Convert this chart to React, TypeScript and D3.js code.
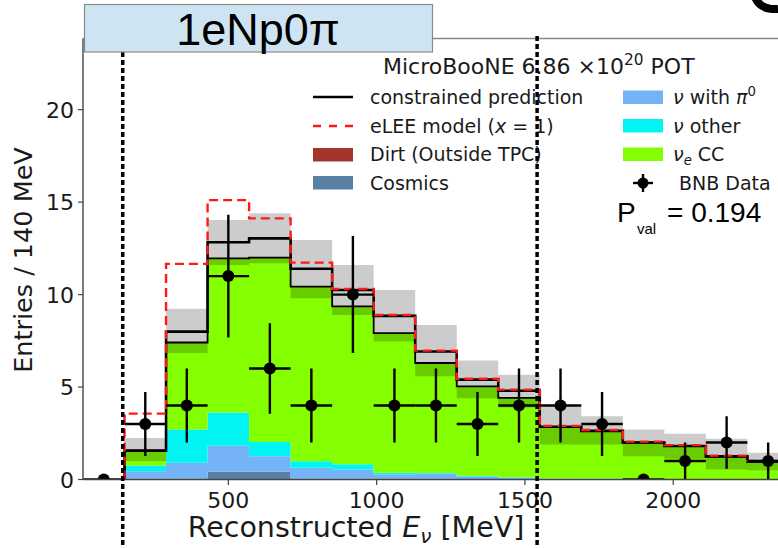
import React, { useEffect, useRef } from "react";
import * as d3 from "d3";

// ---- data ----
const binEdges = [150, 290, 430, 570, 710, 850, 990, 1130, 1270, 1410, 1550, 1690, 1830, 1970, 2110, 2250, 2390];
const cosmics = [0.05, 0.05, 0.4, 0.4, 0.05, 0.05, 0.03, 0.03, 0.02, 0.02, 0.01, 0.01, 0.01, 0.01, 0.01, 0.01];
const dirt = [0, 0, 0.02, 0.02, 0.01, 0.01, 0.01, 0.01, 0, 0, 0, 0, 0, 0, 0, 0];
const nuPi0 = [0.4, 0.85, 1.41, 0.84, 0.57, 0.48, 0.23, 0.27, 0.13, 0.08, 0.04, 0.03, 0.02, 0.02, 0.01, 0.01];
const nuOther = [0.31, 1.8, 1.8, 0.77, 0.36, 0.28, 0.09, 0.04, 0.05, 0.02, 0.01, 0.01, 0.01, 0, 0, 0];
const nueCC = [0.8, 4.71, 8.33, 9.97, 9.44, 8.54, 7.56, 5.95, 4.84, 4.29, 2.79, 2.57, 1.96, 1.77, 1.22, 0.95];
const constrained = [1.56, 8.0, 12.83, 13.04, 11.4, 10.25, 8.85, 6.92, 5.4, 4.8, 2.85, 2.63, 2.0, 1.81, 1.25, 0.97];
const bandHigh = [2.25, 9.23, 14.03, 14.4, 12.95, 11.6, 10.25, 8.36, 6.44, 5.67, 3.96, 3.42, 2.7, 2.48, 2.2, 1.45];
const bandLow = [1.0, 6.84, 11.6, 11.7, 9.8, 8.9, 7.46, 5.58, 4.4, 3.9, 1.89, 1.89, 1.26, 1.12, 0.54, 0.5];
const eLEE = [3.56, 11.66, 15.11, 14.12, 11.73, 10.3, 8.9, 6.97, 5.45, 4.86, 2.9, 2.68, 2.05, 1.86, 1.29, 1.01];
const dataEdges = [10, 150, 290, 430, 570, 710, 850, 990, 1130, 1270, 1410, 1550, 1690, 1830, 1970, 2110, 2250, 2390];
const dataCounts = [0, 3, 4, 11, 6, 4, 10, 4, 4, 3, 4, 4, 3, 0, 1, 2, 1];
const yTicks = [0, 5, 10, 15, 20];
const xTicks = [500, 1000, 1500, 2000];
const cutLines = [144, 1541];

const layerKeys = ["cosmics", "dirt", "nuPi0", "nuOther", "nueCC"];
const layerColors: Record<string, string> = {
  cosmics: "#5b80a6",
  dirt: "#a3352a",
  nuPi0: "#74b4f6",
  nuOther: "#00f4f4",
  nueCC: "#84ff00",
};

const SANS = "'DejaVu Sans', sans-serif";
const ARIAL = "'Liberation Sans', Arial, sans-serif";

type Part = { t: string; i?: boolean; sup?: boolean; sub?: boolean };

function richText(g: any, x: number, yb: number, parts: Part[], size: number, family: string, anchor = "start") {
  const t = g
    .append("text")
    .attr("x", x)
    .attr("y", yb)
    .attr("font-size", size)
    .attr("font-family", family)
    .attr("fill", "#1a1a1a")
    .attr("text-anchor", anchor);
  let shift = 0;
  parts.forEach((p) => {
    const ts = t.append("tspan").text(p.t);
    let target = 0;
    if (p.sup) target = -size * 0.42;
    if (p.sub) target = size * 0.22;
    ts.attr("dy", target - shift);
    shift = target;
    if (p.i) ts.attr("font-style", "italic");
    if (p.sup || p.sub) ts.attr("font-size", size * 0.7);
  });
  return t;
}

export default function App() {
  const ref = useRef<SVGSVGElement>(null);

  useEffect(() => {
    const svg = d3.select(ref.current);
    svg.selectAll("*").remove();

    const x = d3.scaleLinear().domain([10, 2400]).range([83, 83 + 2390 * 0.2966]);
    const y = d3.scaleLinear().domain([0, 23.85]).range([479.5, 38.5]);

    const defs = svg.append("defs");
    defs
      .append("clipPath")
      .attr("id", "plotclip")
      .append("rect")
      .attr("x", 83)
      .attr("y", 38.5)
      .attr("width", 778 - 83)
      .attr("height", 479.5 - 38.5);

    const plot = svg.append("g").attr("clip-path", "url(#plotclip)");

    // stacked histogram
    const rows = binEdges.slice(0, -1).map((e, i) => ({
      lo: e,
      hi: binEdges[i + 1],
      cosmics: cosmics[i],
      dirt: dirt[i],
      nuPi0: nuPi0[i],
      nuOther: nuOther[i],
      nueCC: nueCC[i],
    }));
    const stacked = d3.stack<any>().keys(layerKeys)(rows);

    const stepArea = (lo: number[], hi: number[]) => {
      const pts = binEdges.map((e, i) => {
        const j = Math.min(i, lo.length - 1);
        return { e, lo: lo[j], hi: hi[j] };
      });
      return d3
        .area<any>()
        .curve(d3.curveStepAfter)
        .x((d) => x(d.e))
        .y0((d) => y(d.lo))
        .y1((d) => y(d.hi))(pts);
    };
    const stepLine = (vals: number[]) => {
      const pts: [number, number][] = [[binEdges[0], 0]];
      binEdges.forEach((e, i) => pts.push([e, vals[Math.min(i, vals.length - 1)]]));
      return d3
        .line<[number, number]>()
        .curve(d3.curveStepAfter)
        .x((d) => x(d[0]))
        .y((d) => y(d[1]))(pts);
    };

    stacked.forEach((layer) => {
      plot
        .append("path")
        .attr("d", stepArea(layer.map((d) => d[0]), layer.map((d) => d[1])))
        .attr("fill", layerColors[layer.key]);
    });

    const stackTop = rows.map((_, i) => stacked[stacked.length - 1][i][1]);
    plot
      .append("path")
      .attr("d", stepLine(stackTop))
      .attr("fill", "none")
      .attr("stroke", "#000")
      .attr("stroke-width", 1.8);

    // uncertainty band
    plot
      .append("path")
      .attr("d", stepArea(bandLow, bandHigh))
      .attr("fill", "#000")
      .attr("fill-opacity", 0.2);

    // constrained prediction
    plot
      .append("path")
      .attr("d", stepLine(constrained))
      .attr("fill", "none")
      .attr("stroke", "#000")
      .attr("stroke-width", 2.6);

    // eLEE
    plot
      .append("path")
      .attr("d", stepLine(eLEE))
      .attr("fill", "none")
      .attr("stroke", "#ff1a1a")
      .attr("stroke-width", 2.4)
      .attr("stroke-dasharray", "9,5");

    // data points
    dataCounts.forEach((n, i) => {
      const lo = dataEdges[i];
      const hi = dataEdges[i + 1];
      const cx = x((lo + hi) / 2);
      const cy = y(n);
      plot
        .append("line")
        .attr("x1", x(lo))
        .attr("x2", x(hi))
        .attr("y1", cy)
        .attr("y2", cy)
        .attr("stroke", "#000")
        .attr("stroke-width", 2.4);
      if (n > 0) {
        const e = Math.sqrt(n);
        plot
          .append("line")
          .attr("x1", cx)
          .attr("x2", cx)
          .attr("y1", y(n - e))
          .attr("y2", y(n + e))
          .attr("stroke", "#000")
          .attr("stroke-width", 2.4);
      }
      plot.append("circle").attr("cx", cx).attr("cy", cy).attr("r", 6).attr("fill", "#000");
    });

    // axes frame
    const axisColor = "#444";
    svg
      .append("line")
      .attr("x1", 83)
      .attr("x2", 83)
      .attr("y1", 38.5)
      .attr("y2", 479.5)
      .attr("stroke", axisColor)
      .attr("stroke-width", 1.4);
    svg
      .append("line")
      .attr("x1", 83)
      .attr("x2", 778)
      .attr("y1", 479.5)
      .attr("y2", 479.5)
      .attr("stroke", axisColor)
      .attr("stroke-width", 1.4);
    svg
      .append("line")
      .attr("x1", 83)
      .attr("x2", 778)
      .attr("y1", 38.5)
      .attr("y2", 38.5)
      .attr("stroke", "#888")
      .attr("stroke-width", 1.4);

    yTicks.forEach((t) => {
      svg
        .append("line")
        .attr("x1", 78)
        .attr("x2", 83)
        .attr("y1", y(t))
        .attr("y2", y(t))
        .attr("stroke", axisColor)
        .attr("stroke-width", 1.2);
      svg
        .append("text")
        .attr("x", 74)
        .attr("y", y(t) + 8)
        .attr("text-anchor", "end")
        .attr("font-size", 22)
        .attr("font-family", SANS)
        .attr("fill", "#1a1a1a")
        .text(String(t));
    });
    xTicks.forEach((t) => {
      svg
        .append("line")
        .attr("x1", x(t))
        .attr("x2", x(t))
        .attr("y1", 479.5)
        .attr("y2", 485)
        .attr("stroke", axisColor)
        .attr("stroke-width", 1.2);
      svg
        .append("text")
        .attr("x", x(t))
        .attr("y", 508)
        .attr("text-anchor", "middle")
        .attr("font-size", 22)
        .attr("font-family", SANS)
        .attr("fill", "#1a1a1a")
        .text(String(t));
    });

    // axis labels
    richText(
      svg,
      356,
      537,
      [{ t: "Reconstructed " }, { t: "E", i: true }, { t: "ν", i: true, sub: true }, { t: " [MeV]" }],
      28.5,
      SANS,
      "middle"
    );
    svg
      .append("text")
      .attr("transform", "translate(32,260) rotate(-90)")
      .attr("text-anchor", "middle")
      .attr("font-size", 25.5)
      .attr("font-family", SANS)
      .attr("fill", "#1a1a1a")
      .text("Entries / 140 MeV");

    // legend
    const lg = svg.append("g");
    richText(lg, 383, 74, [{ t: "MicroBooNE 6.86 ×10" }, { t: "20", sup: true }, { t: " POT" }], 22, SANS);

    lg.append("line").attr("x1", 313).attr("x2", 353).attr("y1", 97).attr("y2", 97).attr("stroke", "#000").attr("stroke-width", 2.4);
    lg.append("line")
      .attr("x1", 313)
      .attr("x2", 353)
      .attr("y1", 126)
      .attr("y2", 126)
      .attr("stroke", "#ff1a1a")
      .attr("stroke-width", 2.4)
      .attr("stroke-dasharray", "8,8");
    lg.append("rect").attr("x", 313).attr("y", 148).attr("width", 40).attr("height", 13.5).attr("fill", layerColors.dirt);
    lg.append("rect").attr("x", 313).attr("y", 176).attr("width", 40).attr("height", 13.5).attr("fill", layerColors.cosmics);
    richText(lg, 370, 104, [{ t: "constrained prediction" }], 19, SANS);
    richText(lg, 370, 132.5, [{ t: "eLEE model (" }, { t: "x", i: true }, { t: " = 1)" }], 19, SANS);
    richText(lg, 370, 161, [{ t: "Dirt (Outside TPC)" }], 19, SANS);
    richText(lg, 370, 189.5, [{ t: "Cosmics" }], 19, SANS);

    lg.append("rect").attr("x", 623).attr("y", 90.5).attr("width", 40).attr("height", 13.5).attr("fill", layerColors.nuPi0);
    lg.append("rect").attr("x", 623).attr("y", 119).attr("width", 40).attr("height", 13.5).attr("fill", layerColors.nuOther);
    lg.append("rect").attr("x", 623).attr("y", 147.5).attr("width", 40).attr("height", 13.5).attr("fill", layerColors.nueCC);
    richText(lg, 673, 104, [{ t: "ν", i: true }, { t: " with " }, { t: "π", i: true }, { t: "0", sup: true }], 19, SANS);
    richText(lg, 673, 132.5, [{ t: "ν", i: true }, { t: " other" }], 19, SANS);
    richText(lg, 673, 161, [{ t: "ν", i: true }, { t: "e", i: true, sub: true }, { t: " CC" }], 19, SANS);
    lg.append("line").attr("x1", 633).attr("x2", 653).attr("y1", 183).attr("y2", 183).attr("stroke", "#000").attr("stroke-width", 2.4);
    lg.append("line").attr("x1", 643).attr("x2", 643).attr("y1", 174).attr("y2", 192).attr("stroke", "#000").attr("stroke-width", 2.4);
    lg.append("circle").attr("cx", 643).attr("cy", 183).attr("r", 5.5).attr("fill", "#000");
    richText(lg, 679, 189.5, [{ t: "BNB Data" }], 19, SANS);

    // P value
    const pv = svg.append("text").attr("font-family", ARIAL).attr("fill", "#000");
    pv.append("tspan").attr("x", 617).attr("y", 222).attr("font-size", 28).text("P");
    pv.append("tspan").attr("x", 637).attr("y", 234).attr("font-size", 15).text("val");
    pv.append("tspan").attr("x", 667).attr("y", 222).attr("font-size", 28).text("= 0.194");

    // cut lines
    cutLines.forEach((c) => {
      svg
        .append("line")
        .attr("x1", x(c))
        .attr("x2", x(c))
        .attr("y1", 36)
        .attr("y2", 548)
        .attr("stroke", "#000")
        .attr("stroke-width", 3.5)
        .attr("stroke-dasharray", "5,3");
    });

    // title box
    svg
      .append("rect")
      .attr("x", 84.5)
      .attr("y", 4.5)
      .attr("width", 348)
      .attr("height", 47.5)
      .attr("fill", "#cfe4f3")
      .attr("stroke", "#8a8a8a")
      .attr("stroke-width", 1.2);
    svg
      .append("text")
      .attr("x", 258)
      .attr("y", 45)
      .attr("text-anchor", "middle")
      .attr("font-size", 45)
      .attr("font-family", ARIAL)
      .attr("fill", "#000")
      .text("1eNp0π");

    // partial glyph at top-right corner
    svg
      .append("path")
      .attr("d", "M 755 -3 Q 760 10 778 9")
      .attr("fill", "none")
      .attr("stroke", "#000")
      .attr("stroke-width", 8);
  }, []);

  return (
    <div style={{ position: "absolute", left: 0, top: 0, width: 778, height: 548, background: "#fff", overflow: "hidden" }}>
      <svg ref={ref} width={778} height={548} style={{ display: "block" }} />
    </div>
  );
}
